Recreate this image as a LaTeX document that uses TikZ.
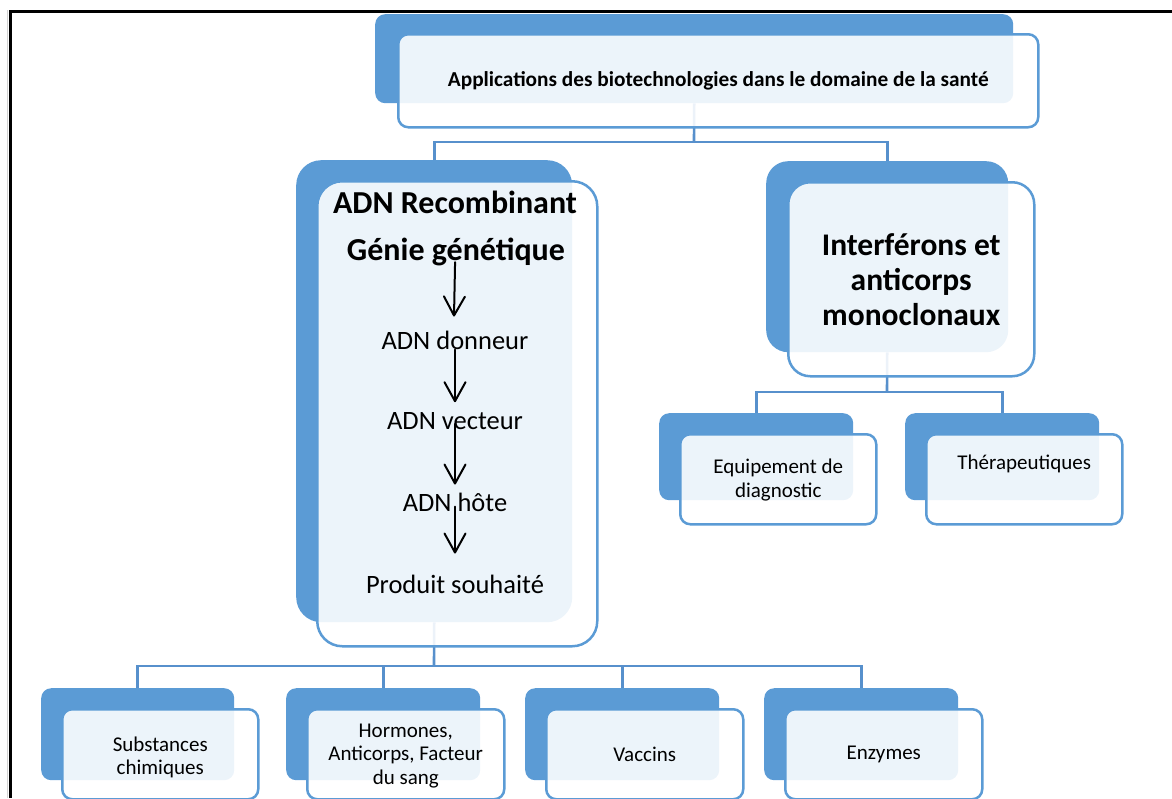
\documentclass[tikz,border=0pt]{standalone}
\usepackage{fontspec}
\setmainfont{Carlito}
\usetikzlibrary{arrows.meta,positioning}

\definecolor{bleu}{HTML}{5B9BD5}
\definecolor{trait}{HTML}{5790CC}

\tikzset{
	back/.style={fill=bleu, rounded corners=10pt, inner sep=0pt, anchor=north west},
	front/.style={draw=bleu, line width=2.5pt, fill=white, fill opacity=0.89, text opacity=1,
		rounded corners=10pt, inner sep=0pt, anchor=north west, align=center},
	link/.style={draw=trait, line width=2.6pt},
	fleche/.style={-{Straight Barb[length=19pt,width=21pt,line width=2pt,round]}, line width=2pt, line cap=round},
	petit/.style={font=\fontsize{21}{23.5}\selectfont, align=center, inner sep=0pt},
	moyen/.style={font=\fontsize{26.5}{30}\selectfont, inner sep=0pt},
	gros/.style={font=\bfseries\fontsize{32}{36}\selectfont, align=center, inner sep=0pt},
}

\begin{document}
\begin{tikzpicture}[x=1pt, y=-1pt]
	\useasboundingbox (0,0) rectangle (1172,798);

	% back boxes
	\node[back, minimum width=638, minimum height=89] (sante-b) at (375,14) {};
	\node[back, minimum width=276, minimum height=462, rounded corners=25pt] (adn-b) at (296,160) {};
	\node[back, minimum width=242, minimum height=191, rounded corners=22pt] (ifn-b) at (766,161) {};
	\node[back, minimum width=194, minimum height=87] (diag-b) at (659,413) {};
	\node[back, minimum width=194, minimum height=87] (thera-b) at (905,413) {};
	\node[back, minimum width=193, minimum height=92] (chim-b) at (41,688) {};
	\node[back, minimum width=194, minimum height=92] (horm-b) at (286,688) {};
	\node[back, minimum width=194, minimum height=92] (vacc-b) at (525,688) {};
	\node[back, minimum width=194, minimum height=92] (enz-b) at (764,688) {};

	% lines
	\coordinate (bar1) at (694,142);
	\coordinate (bar2) at (887,392);
	\coordinate (bar3) at (434,666);
	\draw[link] (sante-b.south) -- (bar1);
	\draw[link] (bar1) -| (adn-b.north);
	\draw[link] (bar1) -| (ifn-b.north);
	\draw[link] (ifn-b.south) -- (bar2);
	\draw[link] (bar2) -| (diag-b.north);
	\draw[link] (bar2) -| (thera-b.north);
	\draw[link] (adn-b.south) -- (bar3);
	\draw[link] (bar3) -| (chim-b.north);
	\draw[link] (bar3) -| (horm-b.north);
	\draw[link] (bar3) -| (vacc-b.north);
	\draw[link] (bar3) -| (enz-b.north);

	% front boxes
	\node[front, minimum width=640, minimum height=93, font=\bfseries\fontsize{21.3}{25}\selectfont] (sante) at (397,33)
		{Applications des biotechnologies dans le domaine de la santé};
	\node[front, minimum width=280, minimum height=465, rounded corners=25pt] (adn) at (316,180) {};
	\node[front, minimum width=246, minimum height=194, rounded corners=22pt,
		font=\bfseries\fontsize{31.5}{35}\selectfont] (ifn) at (787,181) {Interférons et\\anticorps\\monoclonaux};
	\node[front, minimum width=196, minimum height=90] (diag) at (679,433) {};
	\node[front, minimum width=196, minimum height=90] (thera) at (925,433) {};
	\node[front, minimum width=196, minimum height=90] (chim) at (61,708) {};
	\node[front, minimum width=197, minimum height=90] (horm) at (306,708) {};
	\node[front, minimum width=197, minimum height=90] (vacc) at (545,708) {};
	\node[front, minimum width=197, minimum height=90] (enz) at (784,708) {};

	% texts
	\node[gros] (recomb) at (455,202) {ADN Recombinant};
	\node[gros] (genie) at (456,252) {Génie génétique};
	\node[moyen] (donneur) at (455,340) {ADN donneur};
	\node[moyen] (vecteur) at (455,421) {ADN vecteur};
	\node[moyen] (hote) at (455,502) {ADN hôte};
	\node[moyen] (produit) at (455,584) {Produit souhaité};
	\draw[fleche, shorten <=-4pt] ([xshift=-1pt]genie.south) -- ([xshift=-1pt,yshift=14pt]donneur.north);
	\draw[fleche] (donneur.south) -- ([yshift=10pt]vecteur.north);
	\draw[fleche, shorten <=-6pt] (vecteur.south) -- ([yshift=8pt]hote.north);
	\draw[fleche, shorten <=-5pt] (hote.south) -- ([yshift=21pt]produit.north);

	\node[petit] (t-diag) at ([yshift=-1pt]diag.center) {Equipement de\\diagnostic};
	\node[petit] (t-thera) at ([yshift=15.5pt]thera.center) {Thérapeutiques};
	\node[petit] (t-chim) at ([yshift=-3pt]chim.center) {Substances\\chimiques};
	\node[petit] (t-horm) at ([yshift=-1.5pt]horm.center) {Hormones,\\Anticorps, Facteur\\du sang};
	\node[petit] (t-vacc) at (vacc.center) {Vaccins};
	\node[petit] (t-enz) at (enz.center) {Enzymes};

	% frame
	\draw[gray!35, line width=1.3pt] (7.6,798) -- (7.6,10);
	\draw[line width=3.3pt] (10.3,798) -- (10.3,11.7) -- (1172,11.7);
\end{tikzpicture}
\end{document}
